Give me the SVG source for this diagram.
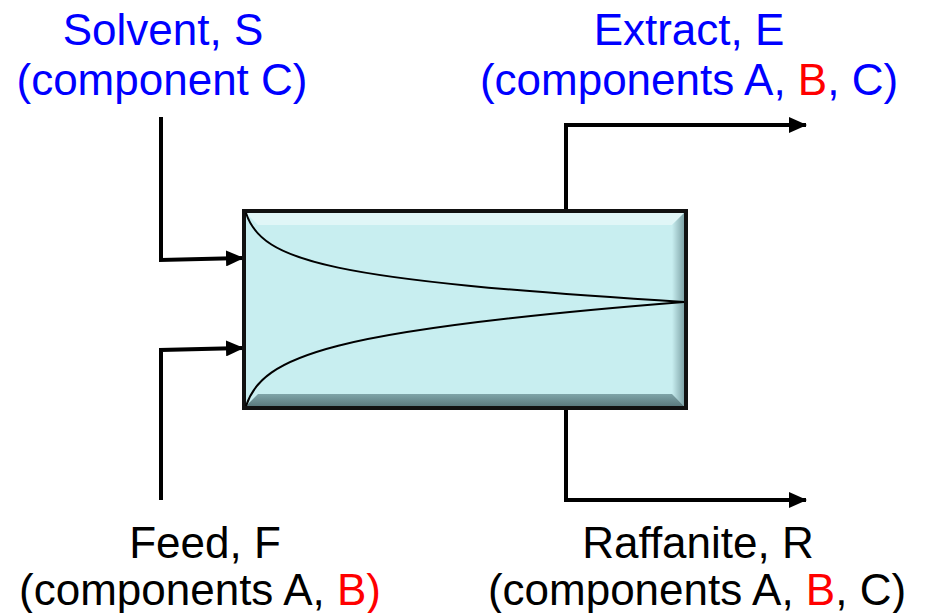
<svg xmlns="http://www.w3.org/2000/svg" width="928" height="613" viewBox="0 0 928 613">
<style>
.t{font-family:"Liberation Sans",Arial,sans-serif;font-size:44px;text-anchor:middle}
.b{fill:#0000ff}.k{fill:#000}.r{fill:#ff0000}
.ln{fill:none;stroke:#000;stroke-width:4}
</style>
<defs>
<marker id="ah" markerWidth="18" markerHeight="16" refX="17" refY="8" orient="auto" markerUnits="userSpaceOnUse" viewBox="0 0 18 16"><path d="M0,0 L18,8 L0,16 Z" fill="#000"/></marker>
<linearGradient id="bt" x1="0" y1="0" x2="0" y2="1"><stop offset="0" stop-color="#7fa4a8"/><stop offset="1" stop-color="#5b7a7e"/></linearGradient>
<linearGradient id="rt" x1="0" y1="0" x2="1" y2="0"><stop offset="0" stop-color="#c8eef0"/><stop offset="1" stop-color="#7fa4a8"/></linearGradient>
</defs>
<g id="connectors">
<path class="ln" d="M161,117 V260 L243,258" marker-end="url(#ah)"/>
<path class="ln" d="M161,500 V350 L243,348" marker-end="url(#ah)"/>
<path class="ln" d="M566,210 V125 H806" marker-end="url(#ah)"/>
<path class="ln" d="M566,409 V500 H806" marker-end="url(#ah)"/>
</g>
<g id="extractor">
<rect x="244" y="211" width="442" height="197" fill="#c8eef0"/>
<polygon points="246,213 684,213 672,225 258,225" fill="#e6f8f9" opacity="0.8"/>
<polygon points="684,213 684,406 672,394 672,225" fill="url(#rt)"/>
<polygon points="246,406 684,406 672,394 258,394" fill="url(#bt)"/>
<rect x="244" y="211" width="442" height="197" fill="none" stroke="#111" stroke-width="4"/>
<path d="M246,213 C262,262 330,280 684,302" fill="none" stroke="#000" stroke-width="2"/>
<path d="M246,406 C262,356 330,330 684,302" fill="none" stroke="#000" stroke-width="2"/>
</g>
<g id="solvent">
<text class="t b" x="163" y="45">Solvent, S</text>
<text class="t b" x="162" y="95">(component C)</text>
</g>
<g id="extract">
<text class="t b" x="689" y="45">Extract, E</text>
<text class="t b" x="689" y="95">(components A, <tspan class="r">B</tspan>, C)</text>
</g>
<g id="feed">
<text class="t k" x="205" y="558">Feed, F</text>
<text class="t k" x="200" y="605">(components A, <tspan class="r">B)</tspan></text>
</g>
<g id="raffinate">
<text class="t k" x="698" y="558">Raffanite, R</text>
<text class="t k" x="697" y="605">(components A, <tspan class="r">B</tspan>, C)</text>
</g>
</svg>
